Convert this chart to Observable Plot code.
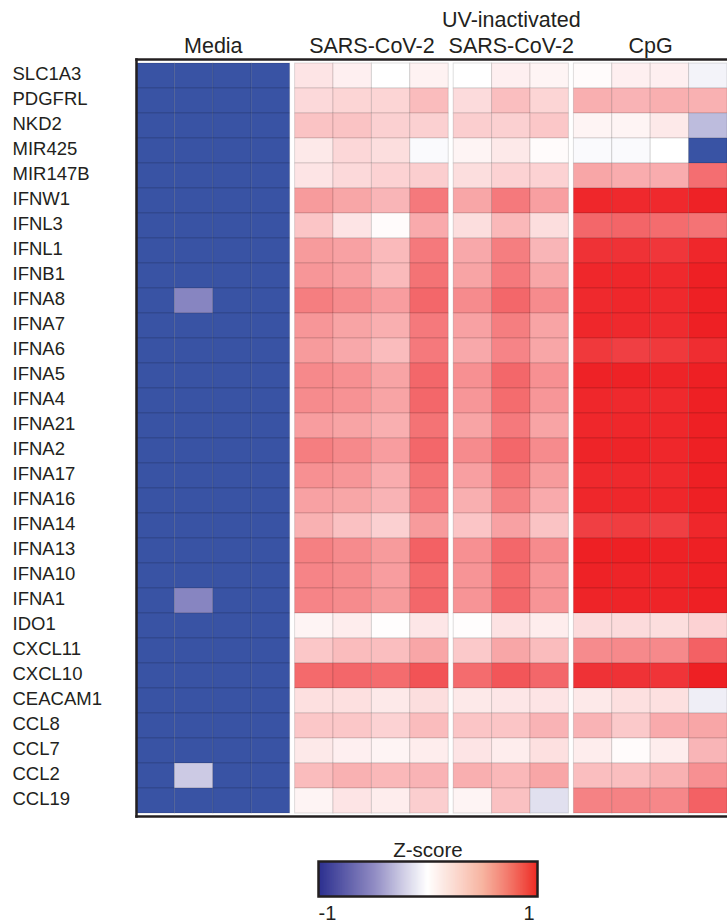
<!DOCTYPE html>
<html><head><meta charset="utf-8">
<script src="https://cdn.jsdelivr.net/npm/d3@7"></script>
<script src="https://cdn.jsdelivr.net/npm/@observablehq/plot@0.6"></script>
<style>
body{margin:0;background:#fff;font-family:"Liberation Sans",Arial,Helvetica,sans-serif;}
#chart{width:727px;}
#chart svg{display:block;}
</style></head><body><div id="chart"></div>
<script>
const genes = ["SLC1A3","PDGFRL","NKD2","MIR425","MIR147B","IFNW1","IFNL3","IFNL1","IFNB1","IFNA8","IFNA7","IFNA6","IFNA5","IFNA4","IFNA21","IFNA2","IFNA17","IFNA16","IFNA14","IFNA13","IFNA10","IFNA1","IDO1","CXCL11","CXCL10","CEACAM1","CCL8","CCL7","CCL2","CCL19"];
const groups = ["Media","SARS-CoV-2","UV-inactivated\nSARS-CoV-2","CpG"];
const media = [
[-1,-1,-1,-1],[-1,-1,-1,-1],[-1,-1,-1,-1],[-1,-1,-1,-1],[-1,-1,-1,-1],
[-1,-1,-1,-1],[-1,-1,-1,-1],[-1,-1,-1,-1],[-1,-1,-1,-1],[-1,-0.52,-1,-1],
[-1,-1,-1,-1],[-1,-1,-1,-1],[-1,-1,-1,-1],[-1,-1,-1,-1],[-1,-1,-1,-1],
[-1,-1,-1,-1],[-1,-1,-1,-1],[-1,-1,-1,-1],[-1,-1,-1,-1],[-1,-1,-1,-1],
[-1,-1,-1,-1],[-1,-0.52,-1,-1],[-1,-1,-1,-1],[-1,-1,-1,-1],[-1,-1,-1,-1],
[-1,-1,-1,-1],[-1,-1,-1,-1],[-1,-1,-1,-1],[-1,-0.22,-1,-1],[-1,-1,-1,-1]];
const sarsCov2 = [
[0.12,0.07,0,0.06],[0.17,0.19,0.19,0.3],[0.27,0.27,0.21,0.21],[0.1,0.18,0.15,-0.02],[0.12,0.17,0.2,0.22],
[0.45,0.4,0.33,0.6],[0.26,0.12,0.02,0.38],[0.45,0.42,0.31,0.6],[0.47,0.43,0.31,0.63],[0.58,0.52,0.44,0.68],
[0.47,0.41,0.36,0.6],[0.45,0.39,0.3,0.6],[0.53,0.5,0.41,0.68],[0.52,0.49,0.41,0.68],[0.44,0.41,0.36,0.63],
[0.58,0.53,0.44,0.68],[0.5,0.47,0.37,0.63],[0.42,0.4,0.34,0.6],[0.35,0.28,0.21,0.45],[0.57,0.52,0.45,0.71],
[0.55,0.52,0.44,0.67],[0.55,0.52,0.45,0.68],[0.05,0.08,0.01,0.11],[0.25,0.3,0.29,0.4],[0.67,0.68,0.66,0.77],
[0.14,0.14,0.1,0.15],[0.25,0.25,0.2,0.3],[0.1,0.07,0.05,0.08],[0.3,0.35,0.32,0.34],[0.05,0.12,0.08,0.22]];
const uvSarsCov2 = [
[0,0.07,0.05],[0.16,0.29,0.19],[0.22,0.21,0.25],[0.05,0.1,0.02],[0.15,0.2,0.2],
[0.4,0.6,0.43],[0.15,0.32,0.15],[0.39,0.58,0.33],[0.41,0.6,0.4],[0.52,0.68,0.52],
[0.42,0.58,0.41],[0.39,0.55,0.4],[0.5,0.68,0.5],[0.47,0.66,0.47],[0.41,0.6,0.41],
[0.52,0.68,0.52],[0.43,0.63,0.45],[0.36,0.57,0.38],[0.26,0.42,0.27],[0.5,0.68,0.52],
[0.48,0.67,0.48],[0.48,0.68,0.48],[0.01,0.13,0.08],[0.24,0.4,0.3],[0.66,0.76,0.68],
[0.1,0.11,0.12],[0.26,0.26,0.34],[0.12,0.08,0.14],[0.36,0.32,0.4],[0.05,0.28,-0.13]];
const cpg = [
[0.02,0.07,0.07,-0.05],[0.36,0.34,0.36,0.35],[0.05,0.05,0.1,-0.28],[-0.02,-0.02,0,-1],[0.4,0.37,0.37,0.65],
[0.97,0.96,0.96,0.99],[0.68,0.69,0.66,0.63],[0.92,0.92,0.9,0.97],[0.97,0.97,0.96,1],[0.96,0.97,0.96,1],
[0.97,0.96,0.95,1],[0.89,0.86,0.89,0.94],[0.99,0.99,0.98,1],[0.97,0.96,0.96,1],[0.97,0.97,0.97,1],
[0.98,0.98,0.97,1],[0.96,0.96,0.96,1],[0.97,0.97,0.97,1],[0.86,0.87,0.86,0.97],[1,1,0.99,1],
[0.99,0.98,0.98,1],[0.98,0.98,0.98,1],[0.16,0.16,0.15,0.2],[0.52,0.53,0.53,0.71],[0.92,0.92,0.91,1],
[0.1,0.14,0.14,-0.07],[0.34,0.24,0.38,0.4],[0.08,0.02,0.08,0.33],[0.29,0.29,0.35,0.5],[0.56,0.56,0.54,0.71]];
const legendTicks = [-1, 1];
const legendTitle = "Z-score";

const FONT = '"Liberation Sans", Arial, Helvetica, sans-serif';
const INK = "#231f20";
const groupValues = [media, sarsCov2, uvSarsCov2, cpg];
const GAP = 5 / 38.4;
const cells = [];
const groupSpans = [];
let col = 0;
groupValues.forEach((vals, g) => {
  const n = vals[0].length;
  const start = col + g * GAP;
  groupSpans.push({label: groups[g], x: start + n / 2});
  genes.forEach((gene, r) => vals[r].forEach((v, k) => cells.push({gene, x1: start + k, x2: start + k + 1, value: v})));
  col += n;
});
const xMax = col + (groupValues.length - 1) * GAP;

const heat = Plot.plot({
  width: 727, height: 830,
  marginLeft: 136, marginRight: 0, marginTop: 59, marginBottom: 14,
  style: {fontFamily: FONT, background: "white", overflow: "visible"},
  x: {domain: [0, xMax], axis: null},
  y: {domain: genes, axis: null, padding: 0},
  color: {type: "linear", domain: [-1, -0.5, 0, 1], range: ["#3953a4", "#8a87c2", "#ffffff", "#ee2024"], interpolate: "rgb", clamp: true},
  marks: [
    Plot.barX(cells, {x1: "x1", x2: "x2", y: "gene", fill: "value", stroke: "#000", strokeOpacity: 0.13, strokeWidth: 1}),
    Plot.text(genes, {y: d => d, text: d => d, frameAnchor: "left", dx: -124, dy: -2, textAnchor: "start", fontSize: 18.5, fill: INK}),
    Plot.text(groupSpans, {x: "x", text: "label", frameAnchor: "top", lineAnchor: "bottom", dy: -7, fontSize: 21.5, lineHeight: 1.17, fill: INK}),
    Plot.frame({anchor: "top", stroke: INK, strokeWidth: 2.5}),
    Plot.frame({anchor: "bottom", stroke: INK, strokeWidth: 2.5}),
    Plot.frame({anchor: "left", stroke: INK, strokeWidth: 2.5})
  ]
});

const step = 2 / 220;
const ramp = d3.range(-1, 1 - step / 2, step);
const legend = Plot.plot({
  width: 727, height: 92,
  marginLeft: 318, marginRight: 190, marginTop: 31, marginBottom: 26,
  style: {fontFamily: FONT, background: "white", overflow: "visible"},
  x: {domain: [-1, 1], axis: null},
  color: {type: "linear", domain: [-1, -0.5, 0, 0.5, 1], range: ["#2b2f8f", "#8e89c2", "#ffffff", "#f6ab95", "#ee2b24"], interpolate: "rgb"},
  marks: [
    Plot.rect(ramp, {x1: d => d, x2: d => Math.min(1, d + step * 1.3), fill: d => d + step / 2}),
    Plot.frame({stroke: INK, strokeWidth: 2.5}),
    Plot.text([legendTitle], {text: d => d, frameAnchor: "top", lineAnchor: "bottom", dy: -5, fontSize: 20.5, fill: INK}),
    Plot.text([legendTicks[0]], {x: d => d, text: d => String(d), frameAnchor: "bottom", textAnchor: "start", lineAnchor: "top", dy: 9, fontSize: 20, fill: INK}),
    Plot.text([legendTicks[1]], {x: d => d, text: d => String(d), frameAnchor: "bottom", textAnchor: "end", lineAnchor: "top", dx: -3, dy: 9, fontSize: 20, fill: INK})
  ]
});

document.getElementById("chart").append(heat, legend);
</script></body></html>
